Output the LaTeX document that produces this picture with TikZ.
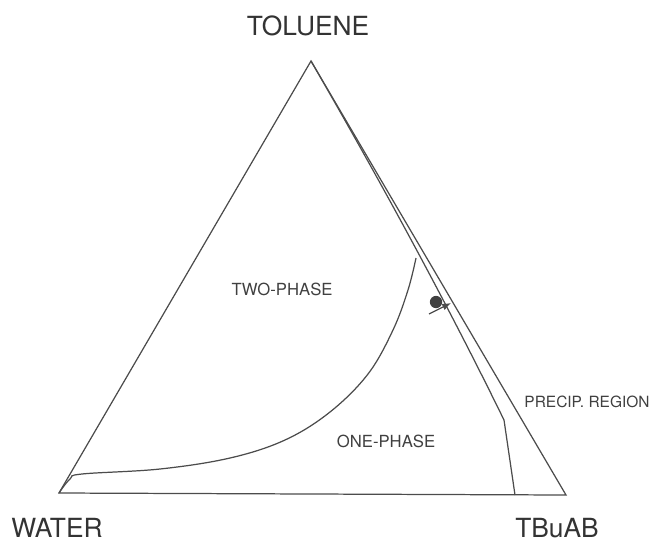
\documentclass[tikz,border=0pt]{standalone}
\usepackage{fontspec}
\setmainfont{TeX Gyre Heros}
\usetikzlibrary{arrows.meta}
\begin{document}
\begin{tikzpicture}[x=0.02cm,y=-0.02cm]
            \tikzset{line/.style={line width=0.7pt, draw=black!70}};
            \tikzset{corner/.style={font=\fontsize{15}{17}\selectfont, text=black!80}};
            \tikzset{region/.style={font=\fontsize{9.5}{11}\selectfont, text=black!75}};
            \useasboundingbox (0,0) rectangle (655,545);

            % vertices of the diagram
            \coordinate (tol) at (311,61);
            \coordinate (wat) at (59,493);
            \coordinate (tba) at (566,495);
            \draw[line] (wat) -- (tol) -- (tba) -- cycle;

            % precipitation boundary
            \coordinate (kink) at (504,420);
            \coordinate (foot) at (515,495);
            \draw[line] (tol) .. controls (400,215) and (460,330) .. (kink) -- (foot);

            % one-phase boundary
            \draw[line] plot[smooth, tension=0.6] coordinates {(wat) (70,479) (82,474) (160,469) (230,458) (285,440) (330,412) (368,374) (393,330) (408,290) (416,258)};

            % measured point
            \node[circle, fill=black!75, inner sep=0pt, minimum size=7] (pt) at (436,302) {};
            \coordinate (arrS) at (429,314);
            \coordinate (arrE) at (451,303);
            \draw[line, -{Latex[length=5pt,width=4pt]}] (arrS) -- (arrE);

            \node[corner] (ntol) at (308,26) {TOLUENE};
            \node[corner] (nwat) at (57,528) {WATER};
            \node[corner] (ntba) at (557,528) {TBuAB};
            \node[region] (ntwo) at (282,289) {TWO-PHASE};
            \node[region] (none) at (386,441) {ONE-PHASE};
            \node[region, font=\fontsize{8.8}{10}\selectfont] (npre) at (587,402) {PRECIP. REGION};
        \end{tikzpicture}
\end{document}
